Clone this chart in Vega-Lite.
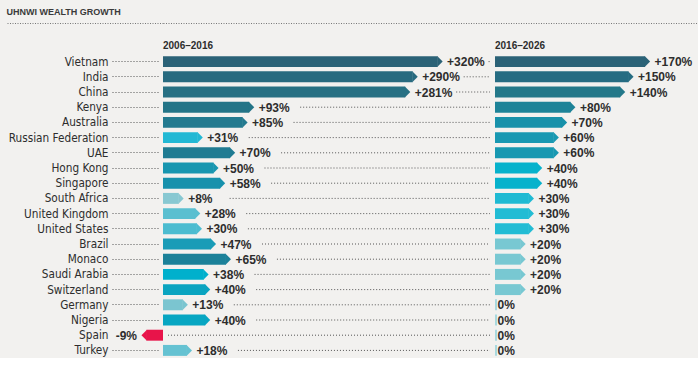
{
  "$schema": "https://vega.github.io/schema/vega-lite/v6.json",
  "background": "#f2f1ef",
  "padding": {"left": 6, "top": 8, "right": 0, "bottom": 0},
  "title": {"text": "UHNWI WEALTH GROWTH", "anchor": "start", "font": "Liberation Sans", "fontSize": 9, "fontWeight": "bold", "color": "#3a3a3a", "offset": 3},
  "config": {"view": {"stroke": null}, "font": "Liberation Sans"},
  "data": {"values": [
    {"country": "Vietnam", "v1": 320, "v2": 170},
    {"country": "India", "v1": 290, "v2": 150},
    {"country": "China", "v1": 281, "v2": 140},
    {"country": "Kenya", "v1": 93, "v2": 80},
    {"country": "Australia", "v1": 85, "v2": 70},
    {"country": "Russian Federation", "v1": 31, "v2": 60},
    {"country": "UAE", "v1": 70, "v2": 60},
    {"country": "Hong Kong", "v1": 50, "v2": 40},
    {"country": "Singapore", "v1": 58, "v2": 40},
    {"country": "South Africa", "v1": 8, "v2": 30},
    {"country": "United Kingdom", "v1": 28, "v2": 30},
    {"country": "United States", "v1": 30, "v2": 30},
    {"country": "Brazil", "v1": 47, "v2": 20},
    {"country": "Monaco", "v1": 65, "v2": 20},
    {"country": "Saudi Arabia", "v1": 38, "v2": 20},
    {"country": "Switzerland", "v1": 40, "v2": 20},
    {"country": "Germany", "v1": 13, "v2": 0},
    {"country": "Nigeria", "v1": 40, "v2": 0},
    {"country": "Spain", "v1": -9, "v2": 0},
    {"country": "Turkey", "v1": 18, "v2": 0}
  ]},
  "transform": [
    {"calculate": "(datum.v1 > 0 ? '+' : '') + datum.v1 + '%'", "as": "l1"},
    {"calculate": "(datum.v2 > 0 ? '+' : '') + datum.v2 + '%'", "as": "l2"}
  ],
  "spacing": 15,
  "vconcat": [
    {
      "width": 536,
      "height": 1,
      "mark": {"type": "point", "opacity": 0},
      "encoding": {
        "x": {"datum": 0, "type": "quantitative", "axis": {"orient": "top", "domainDash": [1, 1.5], "domainColor": "#777", "domainWidth": 1, "labels": false, "ticks": false, "grid": false, "title": null}},
        "y": {"datum": 1, "type": "quantitative", "scale": {"domain": [0, 1]}, "axis": {"values": [1], "tickSize": 156, "tickDash": [1, 1.5], "tickColor": "#777", "tickWidth": 1, "labels": false, "domain": false, "grid": false, "title": null}}
      }
    },
    {
      "spacing": 4,
      "resolve": {"scale": {"color": "independent", "x": "independent"}},
      "hconcat": [
        {
          "width": 327,
          "height": 304,
          "title": {"text": "2006–2016", "anchor": "start", "frame": "group", "font": "Liberation Sans", "fontSize": 10, "fontWeight": "bold", "color": "#2d2d2d", "offset": 3},
          "encoding": {
            "y": {"field": "country", "type": "nominal",
              "sort": ["Vietnam", "India", "China", "Kenya", "Australia", "Russian Federation", "UAE", "Hong Kong", "Singapore", "South Africa", "United Kingdom", "United States", "Brazil", "Monaco", "Saudi Arabia", "Switzerland", "Germany", "Nigeria", "Spain", "Turkey"],
              "scale": {"paddingInner": 0.28, "paddingOuter": 0.14},
              "axis": {"title": null, "domain": false, "offset": 5, "tickSize": 47, "tickDash": [1, 2], "tickColor": "#555", "tickWidth": 1,
                "tickOpacity": {"condition": {"test": "datum.value === 'Spain'", "value": 0}, "value": 1},
                "labelPadding": 3, "labelFont": "Liberation Sans Narrow, DejaVu Sans Condensed, Liberation Sans", "labelFontSize": 11.7, "labelColor": "#2d2d2d"}}
          },
          "layer": [
            {
              "transform": [{"filter": "datum.v1 > 0"}],
              "mark": {"type": "rule", "strokeDash": [1, 2], "color": "#555", "strokeWidth": 1, "xOffset": 60, "clip": true},
              "encoding": {
                "x": {"field": "v1", "type": "quantitative", "scale": {"domain": [0, 394], "nice": false}, "axis": null},
                "x2": {"datum": 394}
              }
            },
            {
              "transform": [{"filter": "datum.v1 < 0"}],
              "mark": {"type": "rule", "strokeDash": [1, 2], "color": "#555", "strokeWidth": 1, "xOffset": 5},
              "encoding": {
                "x": {"datum": 0, "type": "quantitative"},
                "x2": {"datum": 394}
              }
            },
            {
              "transform": [{"filter": "datum.v1 > 0"}],
              "mark": {"type": "bar", "xOffset": 9},
              "encoding": {
                "x": {"field": "v1", "type": "quantitative"},
                "x2": {"datum": 0},
                "color": {"field": "country", "type": "nominal", "legend": null,
                  "scale": {"domain": ["Vietnam", "India", "China", "Kenya", "Australia", "Russian Federation", "UAE", "Hong Kong", "Singapore", "South Africa", "United Kingdom", "United States", "Brazil", "Monaco", "Saudi Arabia", "Switzerland", "Germany", "Nigeria", "Spain", "Turkey"],
                    "range": ["#2b6277", "#286a7f", "#277083", "#237487", "#237a8f", "#22b8d4", "#1f7b92", "#1896b0", "#1791ac", "#88c8d2", "#5bbfd0", "#4cbcd0", "#1a9cb7", "#1b8199", "#00b0cc", "#0aa4c0", "#7bc5d0", "#07a6c2", "#e8144a", "#65c2d2"]}}
              }
            },
            {
              "transform": [{"filter": "datum.v1 > 0"}],
              "mark": {"type": "point", "shape": "M0,-1L1,0L0,1Z", "size": 120, "filled": true, "opacity": 1, "strokeWidth": 0, "xOffset": 8.6},
              "encoding": {
                "x": {"field": "v1", "type": "quantitative"},
                "color": {"field": "country", "type": "nominal", "legend": null}
              }
            },
            {
              "transform": [{"filter": "datum.v1 < 0"}],
              "mark": {"type": "bar", "xOffset": -9},
              "encoding": {
                "x": {"field": "v1", "type": "quantitative"},
                "x2": {"datum": 0},
                "color": {"field": "country", "type": "nominal", "legend": null}
              }
            },
            {
              "transform": [{"filter": "datum.v1 < 0"}],
              "mark": {"type": "point", "shape": "M0,-1L-1,0L0,1Z", "size": 120, "filled": true, "opacity": 1, "strokeWidth": 0, "xOffset": -8.6},
              "encoding": {
                "x": {"field": "v1", "type": "quantitative"},
                "color": {"field": "country", "type": "nominal", "legend": null}
              }
            },
            {
              "transform": [{"filter": "datum.v1 > 0"}],
              "mark": {"type": "text", "align": "left", "baseline": "middle", "xOffset": 18.5, "dy": 0.5, "font": "Liberation Sans", "fontSize": 12, "fontWeight": "bold", "color": "#2d2d2d"},
              "encoding": {
                "x": {"field": "v1", "type": "quantitative"},
                "text": {"field": "l1"}
              }
            },
            {
              "transform": [{"filter": "datum.v1 < 0"}],
              "mark": {"type": "text", "align": "right", "baseline": "middle", "xOffset": -18.5, "dy": 0.5, "font": "Liberation Sans", "fontSize": 12, "fontWeight": "bold", "color": "#2d2d2d"},
              "encoding": {
                "x": {"field": "v1", "type": "quantitative"},
                "text": {"field": "l1"}
              }
            }
          ]
        },
        {
          "width": 195,
          "height": 304,
          "title": {"text": "2016–2026", "anchor": "start", "frame": "group", "font": "Liberation Sans", "fontSize": 10, "fontWeight": "bold", "color": "#2d2d2d", "offset": 3},
          "encoding": {
            "y": {"field": "country", "type": "nominal",
              "sort": ["Vietnam", "India", "China", "Kenya", "Australia", "Russian Federation", "UAE", "Hong Kong", "Singapore", "South Africa", "United Kingdom", "United States", "Brazil", "Monaco", "Saudi Arabia", "Switzerland", "Germany", "Nigeria", "Spain", "Turkey"],
              "scale": {"paddingInner": 0.28, "paddingOuter": 0.14}, "axis": null}
          },
          "layer": [
            {
              "transform": [{"filter": "datum.v2 > 0"}],
              "mark": {"type": "bar", "xOffset": 9},
              "encoding": {
                "x": {"field": "v2", "type": "quantitative", "scale": {"domain": [0, 235], "nice": false}, "axis": null},
                "x2": {"datum": 0},
                "color": {"field": "country", "type": "nominal", "legend": null,
                  "scale": {"domain": ["Vietnam", "India", "China", "Kenya", "Australia", "Russian Federation", "UAE", "Hong Kong", "Singapore", "South Africa", "United Kingdom", "United States", "Brazil", "Monaco", "Saudi Arabia", "Switzerland", "Germany", "Nigeria", "Spain", "Turkey"],
                    "range": ["#2b6277", "#266c82", "#237889", "#1d8398", "#1891aa", "#1898b2", "#1798b1", "#06b2cc", "#06b2cc", "#1fbad3", "#22bcd4", "#22bcd4", "#78c8d2", "#78c8d2", "#78c8d2", "#78c8d2", "#a7d9df", "#a7d9df", "#a7d9df", "#a7d9df"]}}
              }
            },
            {
              "transform": [{"filter": "datum.v2 > 0"}],
              "mark": {"type": "point", "shape": "M0,-1L1,0L0,1Z", "size": 120, "filled": true, "opacity": 1, "strokeWidth": 0, "xOffset": 8.6},
              "encoding": {
                "x": {"field": "v2", "type": "quantitative"},
                "color": {"field": "country", "type": "nominal", "legend": null}
              }
            },
            {
              "transform": [{"filter": "datum.v2 == 0"}],
              "mark": {"type": "bar", "xOffset": 2},
              "encoding": {
                "x": {"field": "v2", "type": "quantitative"},
                "x2": {"datum": 0},
                "color": {"field": "country", "type": "nominal", "legend": null}
              }
            },
            {
              "transform": [{"filter": "datum.v2 > 0"}],
              "mark": {"type": "text", "align": "left", "baseline": "middle", "xOffset": 18.5, "dy": 0.5, "font": "Liberation Sans", "fontSize": 12, "fontWeight": "bold", "color": "#2d2d2d"},
              "encoding": {
                "x": {"field": "v2", "type": "quantitative"},
                "text": {"field": "l2"}
              }
            },
            {
              "transform": [{"filter": "datum.v2 == 0"}],
              "mark": {"type": "text", "align": "left", "baseline": "middle", "xOffset": 2.5, "dy": 0.5, "font": "Liberation Sans", "fontSize": 12, "fontWeight": "bold", "color": "#2d2d2d"},
              "encoding": {
                "x": {"field": "v2", "type": "quantitative"},
                "text": {"field": "l2"}
              }
            }
          ]
        }
      ]
    }
  ]
}
